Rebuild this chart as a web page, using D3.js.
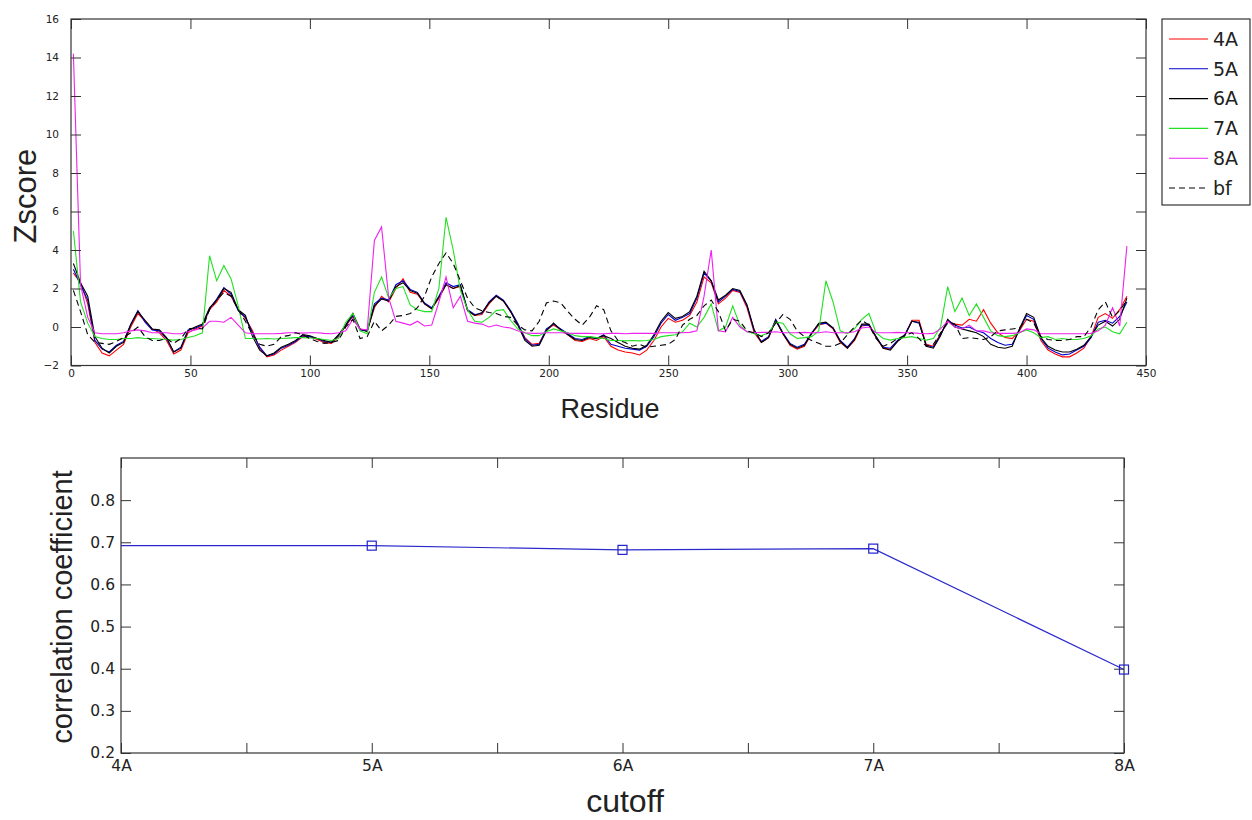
<!DOCTYPE html>
<html>
<head>
<meta charset="utf-8">
<script src="https://cdn.jsdelivr.net/npm/d3@7"></script>
<style>
  body { margin: 0; background: #fff; }
  text { font-family: "Liberation Sans", Arial, sans-serif; fill: #222; }
</style>
</head>
<body>
<svg id="chart" width="1252" height="820"></svg>
<script>
/* residue index (every 3rd residue) */
var residue = d3.range(1, 443, 3);

var z4A = [2.8, 2.3, 1.2, -0.8, -1.35, -1.5, -1.2, -0.9, 0.0, 0.7,
  0.3, -0.1, -0.3, -0.7, -1.4, -1.2, -0.3, -0.1, 0.05, 0.9,
  1.3, 1.9, 1.6, 0.9, 0.45, -0.2, -1.1, -1.55, -1.45, -1.2,
  -1.0, -0.8, -0.5, -0.5, -0.65, -0.8, -0.85, -0.5, 0.05, 0.55,
  -0.1, -0.2, 1.0, 1.6, 1.3, 2.0, 2.5, 1.8, 1.7, 1.2,
  0.95, 1.5, 2.2, 2.0, 2.1, 0.85, 0.6, 0.65, 1.2, 1.6,
  1.35, 0.8, 0.15, -0.55, -0.9, -0.85, -0.15, 0.1, -0.15, -0.4,
  -0.7, -0.75, -0.6, -0.7, -0.5, -1.0, -1.2, -1.3, -1.35, -1.45,
  -1.2, -0.7, 0.0, 0.45, 0.25, 0.35, 0.6, 1.3, 2.6, 2.3,
  1.2, 1.5, 1.9, 1.8, 1.0, -0.3, -0.8, -0.55, 0.35, -0.35,
  -0.95, -1.15, -1.0, -0.35, 0.1, 0.2, -0.1, -0.8, -1.1, -0.7,
  0.05, 0.1, -0.55, -1.1, -1.15, -0.75, -0.45, 0.35, 0.35, -0.9,
  -1.0, -0.35, 0.3, 0.15, 0.1, 0.4, 0.3, 0.9, 0.2, -0.3,
  -0.55, -0.6, -0.2, 0.4, 0.3, -0.7, -1.2, -1.4, -1.55, -1.55,
  -1.35, -1.1, -0.5, 0.5, 0.7, 0.45, 0.9, 1.6];

var z5A = [3.0, 2.2, 1.4, -0.7, -1.15, -1.3, -0.95, -0.75, 0.15, 0.85,
  0.25, -0.15, -0.2, -0.6, -1.3, -1.05, -0.15, -0.05, 0.1, 0.95,
  1.45, 2.05, 1.7, 0.85, 0.5, -0.3, -1.05, -1.5, -1.4, -1.1,
  -0.95, -0.75, -0.45, -0.5, -0.6, -0.75, -0.8, -0.45, 0.1, 0.6,
  -0.15, -0.2, 1.2, 1.5, 1.4, 2.2, 2.4, 1.95, 1.8, 1.25,
  1.0, 1.6, 2.3, 2.1, 2.2, 0.9, 0.65, 0.7, 1.3, 1.65,
  1.4, 0.85, 0.2, -0.6, -0.95, -0.9, -0.1, 0.15, -0.1, -0.35,
  -0.6, -0.65, -0.5, -0.6, -0.4, -0.9, -1.0, -1.1, -1.15, -1.2,
  -1.0, -0.5, 0.2, 0.65, 0.35, 0.5, 0.7, 1.5, 2.8, 2.4,
  1.3, 1.6, 1.95, 1.85, 1.1, -0.2, -0.75, -0.5, 0.4, -0.3,
  -0.85, -1.05, -0.9, -0.3, 0.15, 0.2, -0.05, -0.7, -1.05, -0.6,
  0.1, 0.1, -0.5, -1.05, -1.1, -0.7, -0.4, 0.3, 0.2, -0.95,
  -1.05, -0.4, 0.35, 0.1, -0.05, 0.0, -0.2, -0.3, -0.6, -0.8,
  -0.95, -0.9, -0.15, 0.6, 0.4, -0.6, -1.1, -1.3, -1.45, -1.4,
  -1.2, -1.0, -0.55, 0.25, 0.35, 0.2, 0.55, 1.3];

var z6A = [3.3, 2.3, 1.6, -0.5, -1.1, -1.35, -1.0, -0.8, 0.1, 0.8,
  0.35, -0.1, -0.15, -0.55, -1.3, -1.1, -0.2, 0.0, 0.15, 1.0,
  1.4, 2.0, 1.8, 0.9, 0.6, -0.5, -1.2, -1.5, -1.35, -1.05,
  -0.9, -0.7, -0.4, -0.45, -0.6, -0.7, -0.8, -0.4, 0.1, 0.7,
  -0.1, -0.25, 1.1, 1.45, 1.35, 2.1, 2.3, 1.9, 1.75, 1.2,
  0.95, 1.55, 2.2, 2.0, 2.15, 0.85, 0.6, 0.75, 1.25, 1.6,
  1.35, 0.8, 0.1, -0.7, -1.0, -0.95, -0.2, 0.2, -0.15, -0.4,
  -0.65, -0.7, -0.55, -0.6, -0.45, -0.6, -0.8, -1.0, -1.1, -1.15,
  -0.95, -0.4, 0.3, 0.75, 0.45, 0.55, 0.8, 1.6, 2.9, 2.4,
  1.4, 1.65, 2.0, 1.9, 1.15, -0.15, -0.8, -0.55, 0.35, -0.35,
  -0.9, -1.1, -0.95, -0.35, 0.2, 0.25, -0.05, -0.75, -1.1, -0.65,
  0.15, 0.15, -0.5, -1.1, -1.2, -0.75, -0.45, 0.3, 0.25, -1.0,
  -1.1, -0.45, 0.4, 0.0, -0.1, -0.2, -0.3, -0.5, -0.9, -1.05,
  -1.1, -1.0, -0.1, 0.7, 0.5, -0.55, -1.0, -1.2, -1.3, -1.3,
  -1.15, -0.95, -0.5, 0.1, 0.3, 0.05, 0.4, 1.5];

var z7A = [5.0, 1.3, 0.2, -0.5, -0.6, -0.65, -0.65, -0.6, -0.6, -0.55,
  -0.6, -0.6, -0.62, -0.65, -0.68, -0.65, -0.55, -0.45, -0.3, 3.7,
  2.4, 3.2, 2.5, 1.1, -0.6, -0.6, -0.62, -0.6, -0.62, -0.6,
  -0.58, -0.55, -0.55, -0.57, -0.6, -0.65, -0.7, -0.6, 0.25, 0.7,
  -0.2, -0.35, 1.8, 2.6, 1.5, 2.0, 2.1, 1.15, 0.9, 0.8,
  0.8, 2.0, 5.7, 4.0, 1.9, 0.9, 0.3, 0.25, 0.5, 0.85,
  0.9, 0.35, -0.1, -0.3, -0.45, -0.45, -0.25, -0.1, -0.2, -0.3,
  -0.45, -0.5, -0.5, -0.55, -0.6, -0.7, -0.7, -0.72, -0.7, -0.72,
  -0.7, -0.65, -0.5, -0.45, -0.4, -0.25, 0.2, 0.0, 0.5, 1.2,
  -0.2, 0.0, 1.1, 0.1, -0.25, -0.35, -0.45, -0.3, 0.25, 0.2,
  -0.35, -0.6, -0.55, -0.5, -0.2, 2.4, 1.3, -0.2, -0.35, -0.1,
  0.4, 0.7, -0.3, -0.6, -0.68, -0.6, -0.55, -0.5, -0.6, -0.68,
  -0.6, 0.0, 2.1, 0.8, 1.5, 0.6, 1.2, 0.5, -0.2, -0.45,
  -0.5, -0.45, -0.3, -0.15, -0.3, -0.55, -0.5, -0.65, -0.6, -0.65,
  -0.65, -0.6, -0.45, -0.1, 0.0, -0.25, -0.35, 0.25];

var z8A = [14.2, 2.2, 0.5, -0.3, -0.35, -0.35, -0.35, -0.3, -0.2, -0.15,
  -0.2, -0.3, -0.3, -0.3, -0.35, -0.35, -0.25, -0.15, -0.05, 0.3,
  0.3, 0.25, 0.5, 0.1, -0.3, -0.35, -0.35, -0.35, -0.35, -0.33,
  -0.3, -0.3, -0.32, -0.3, -0.3, -0.33, -0.35, -0.3, -0.2, 0.4,
  -0.1, -0.15, 4.5, 5.2, 1.5, 0.3, 0.2, 0.1, 0.3, 0.05,
  0.1, 1.3, 2.6, 1.0, 1.6, 0.3, 0.2, 0.15, 0.0, 0.1,
  0.0, -0.05, -0.2, -0.3, -0.33, -0.33, -0.3, -0.3, -0.3, -0.32,
  -0.33, -0.33, -0.33, -0.35, -0.35, -0.33, -0.33, -0.35, -0.33, -0.33,
  -0.33, -0.33, -0.3, -0.3, -0.3, -0.3, -0.28, -0.2, 1.6, 4.0,
  -0.2, -0.25, 0.5, 0.0, -0.25, -0.3, -0.28, -0.28, -0.25, -0.3,
  -0.3, -0.3, -0.28, -0.3, -0.3, -0.25, -0.3, -0.3, -0.3, -0.25,
  -0.05, 0.0, -0.3, -0.3, -0.3, -0.28, -0.3, -0.3, -0.33, -0.35,
  -0.33, -0.1, 0.3, 0.0, -0.1, 0.1, -0.2, -0.2, -0.3, -0.33,
  -0.33, -0.33, -0.3, -0.1, -0.15, -0.35, -0.35, -0.35, -0.35, -0.35,
  -0.35, -0.35, -0.33, -0.2, 0.1, 1.0, 0.05, 4.2];

var zbf = [1.9, 0.8, -0.4, -0.8, -0.85, -0.9, -0.75, -0.55, -0.3, 0.0,
  -0.5, -0.7, -0.7, -0.6, -0.85, -0.6, -0.1, -0.05, -0.1, 0.9,
  1.4, 1.8, 1.6, 0.9, 0.3, -0.4, -0.9, -1.0, -0.9, -0.5,
  -0.45, -0.3, -0.4, -0.6, -0.75, -0.85, -0.8, -0.7, 0.0, 0.4,
  -0.6, -0.5, 0.3, -0.2, 0.1, 0.55, 0.6, 0.7, 1.0, 1.6,
  2.6, 3.3, 3.85, 3.3, 2.4, 1.5, 1.0, 0.85, 0.75, 0.7,
  0.55, 0.5, 0.1, -0.15, -0.2, 0.3, 1.25, 1.35, 1.25, 0.8,
  0.4, 0.1, 0.5, 1.1, 0.9, -0.2, -0.7, -0.8, -1.0, -0.9,
  -1.05, -1.0, -0.95, -0.9, -0.65, 0.1, 0.4, 0.6, 1.1, 1.4,
  0.8, -0.2, 0.4, 0.3, -0.2, -0.3, -0.5, -0.3, 0.2, 0.65,
  0.4, -0.2, -0.5, -0.7, -0.85, -1.0, -1.0, -0.85, -0.4, 0.0,
  0.35, 0.1, -0.6, -1.0, -0.85, -0.6, -0.45, -0.3, -0.6, -1.0,
  -0.9, -0.3, 0.2, 0.15, -0.6, -0.55, -0.6, -0.65, -0.5, -0.2,
  -0.15, -0.1, -0.05, 0.4, 0.2, -0.5, -0.65, -0.7, -0.7, -0.65,
  -0.5, -0.5, 0.0, 0.9, 1.3, 0.5, 0.85, 1.4];

var seriesNames = ["4A", "5A", "6A", "7A", "8A", "bf"];
var seriesColors = ["#ff0000", "#0000cc", "#000000", "#22e022", "#ee22ee", "#000000"];

/* lower panel: correlation vs cutoff */
var cutoff = [4, 5, 6, 7, 8];
var cutoffLabels = ["4A", "5A", "6A", "7A", "8A"];
var corrCoef = [0.692, 0.692, 0.682, 0.685, 0.398];

var svg = d3.select("#chart");

/* ---------- top panel ---------- */
var box1 = { left: 71, right: 1146, top: 19, bottom: 365.5 };

var x = d3.scaleLinear().domain([0, 450]).range([box1.left, box1.right]);
var y = d3.scaleLinear().domain([-2, 16]).range([box1.bottom, box1.top]);

var g1 = svg.append("g");

var allSeries = [z4A, z5A, z6A, z7A, z8A, zbf];
var line = d3.line().x(function (d) { return x(d[0]); }).y(function (d) { return y(d[1]); });

allSeries.forEach(function (vals, i) {
  g1.append("path")
    .datum(residue.map(function (r, k) { return [r, vals[k]]; }))
    .attr("d", line)
    .attr("fill", "none")
    .attr("stroke", seriesColors[i])
    .attr("stroke-width", 1.1)
    .attr("stroke-dasharray", seriesNames[i] == "bf" ? "6,4" : null);
});

function styleAxis(sel, size) {
  sel.select(".domain").remove();
  sel.selectAll("line").attr("stroke", "#333");
  sel.selectAll("text").attr("fill", "#333").style("font-size", size + "px")
    .style("font-family", "'DejaVu Sans', sans-serif");
}

g1.append("g").attr("transform", "translate(0," + box1.bottom + ")")
  .call(d3.axisBottom(x).tickValues(d3.range(0, 451, 50)).tickSize(-10).tickPadding(4))
  .call(styleAxis, 10.5);
g1.append("g").attr("transform", "translate(0," + box1.top + ")")
  .call(d3.axisTop(x).tickValues(d3.range(0, 451, 50)).tickSize(-10).tickFormat(""))
  .call(styleAxis, 10.5);
g1.append("g").attr("transform", "translate(" + box1.left + ",0)")
  .call(d3.axisLeft(y).tickValues(d3.range(-2, 17, 2)).tickSize(-10).tickPadding(12))
  .call(styleAxis, 10.5);
g1.append("g").attr("transform", "translate(" + box1.right + ",0)")
  .call(d3.axisRight(y).tickValues(d3.range(-2, 17, 2)).tickSize(-10).tickFormat(""))
  .call(styleAxis, 10.5);

g1.append("rect")
  .attr("x", box1.left).attr("y", box1.top)
  .attr("width", box1.right - box1.left).attr("height", box1.bottom - box1.top)
  .attr("fill", "none").attr("stroke", "#333").attr("stroke-width", 1.2);

g1.append("text")
  .attr("transform", "translate(36,196) rotate(-90)")
  .attr("text-anchor", "middle")
  .style("font-size", "31px")
  .text("Zscore");

g1.append("text")
  .attr("x", 610).attr("y", 418)
  .attr("text-anchor", "middle")
  .style("font-size", "27px")
  .text("Residue");

/* legend */
var leg = svg.append("g");
leg.append("rect")
  .attr("x", 1162).attr("y", 19).attr("width", 88).attr("height", 186)
  .attr("fill", "#fff").attr("stroke", "#333").attr("stroke-width", 1.2);

seriesNames.forEach(function (name, i) {
  var ly = 39 + i * 29.8;
  leg.append("line")
    .attr("x1", 1169).attr("x2", 1208).attr("y1", ly).attr("y2", ly)
    .attr("stroke", seriesColors[i]).attr("stroke-width", 1.1)
    .attr("stroke-dasharray", name == "bf" ? "6,4" : null);
  leg.append("text")
    .attr("x", 1213).attr("y", ly).attr("dy", "0.36em")
    .style("font-family", "'DejaVu Sans', sans-serif")
    .style("font-size", "19px")
    .attr("fill", "#333")
    .text(name);
});

/* ---------- bottom panel ---------- */
var box2 = { left: 121, right: 1124, top: 458, bottom: 753 };

var x2 = d3.scaleLinear().domain([4, 8]).range([box2.left, box2.right]);
var y2 = d3.scaleLinear().domain([0.2, 0.9]).range([box2.bottom, box2.top]);

var g2 = svg.append("g");

var xTicks2 = d3.range(4, 8.01, 0.5);
g2.append("g").attr("transform", "translate(0," + box2.bottom + ")")
  .call(d3.axisBottom(x2).tickValues(xTicks2).tickSize(-10).tickPadding(7)
    .tickFormat(function (d) { var i = cutoff.indexOf(d); return i < 0 ? "" : cutoffLabels[i]; }))
  .call(styleAxis, 15.5);
g2.append("g").attr("transform", "translate(0," + box2.top + ")")
  .call(d3.axisTop(x2).tickValues(xTicks2).tickSize(-10).tickFormat(""))
  .call(styleAxis, 15.5);
g2.append("g").attr("transform", "translate(" + box2.left + ",0)")
  .call(d3.axisLeft(y2).tickValues(d3.range(0.2, 0.81, 0.1)).tickSize(-10).tickPadding(6).tickFormat(d3.format(".1f")))
  .call(styleAxis, 15.5);
g2.append("g").attr("transform", "translate(" + box2.right + ",0)")
  .call(d3.axisRight(y2).tickValues(d3.range(0.2, 0.81, 0.1)).tickSize(-10).tickFormat(""))
  .call(styleAxis, 15.5);

g2.append("rect")
  .attr("x", box2.left).attr("y", box2.top)
  .attr("width", box2.right - box2.left).attr("height", box2.bottom - box2.top)
  .attr("fill", "none").attr("stroke", "#333").attr("stroke-width", 1.2);

var corrPts = cutoff.map(function (c, i) { return [c, corrCoef[i]]; });

g2.append("path")
  .datum(corrPts)
  .attr("d", d3.line().x(function (d) { return x2(d[0]); }).y(function (d) { return y2(d[1]); }))
  .attr("fill", "none").attr("stroke", "#2a2acc").attr("stroke-width", 1.2);

g2.selectAll(".mk")
  .data(corrPts.slice(1))
  .enter().append("rect")
  .attr("class", "mk")
  .attr("x", function (d) { return x2(d[0]) - 4.5; })
  .attr("y", function (d) { return y2(d[1]) - 4.5; })
  .attr("width", 9).attr("height", 9)
  .attr("fill", "none").attr("stroke", "#2020cc").attr("stroke-width", 1.2);

g2.append("text")
  .attr("transform", "translate(72,607) rotate(-90)")
  .attr("text-anchor", "middle")
  .style("font-size", "29px")
  .text("correlation coefficient");

g2.append("text")
  .attr("x", 625).attr("y", 812)
  .attr("text-anchor", "middle")
  .style("font-size", "32px")
  .text("cutoff");
</script>
</body>
</html>
